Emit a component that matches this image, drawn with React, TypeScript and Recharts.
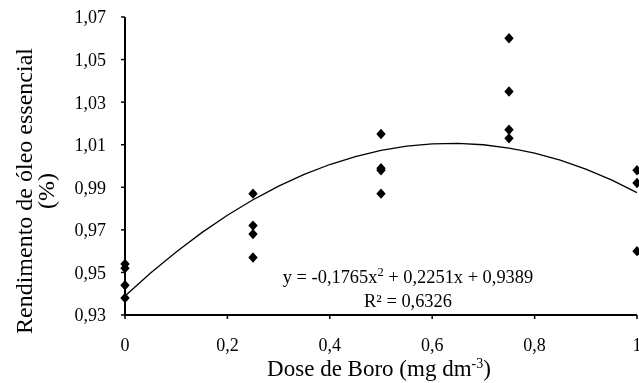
import React from 'react';
import { ComposedChart, Scatter, XAxis, YAxis, Customized } from 'recharts';

const doses = [0, 0.25, 0.5, 0.75, 1];
const yieldDose0 = [0.954, 0.952, 0.944, 0.938];
const yieldDose025 = [0.987, 0.972, 0.968, 0.957];
const yieldDose05 = [1.015, 0.999, 0.998, 0.987];
const yieldDose075 = [1.06, 1.035, 1.017, 1.013];
const yieldDose1 = [0.998, 0.992, 0.96];

const fitCoefA = -0.1765;
const fitCoefB = 0.2251;
const fitCoefC = 0.9389;
const fitSampleX = [0, 0.05, 0.1, 0.15, 0.2, 0.25, 0.3, 0.35, 0.4, 0.45, 0.5, 0.55, 0.6, 0.65, 0.7, 0.75, 0.8, 0.85, 0.9, 0.95, 1];

const xTicks = [0, 0.2, 0.4, 0.6, 0.8, 1];
const yTicks = [0.93, 0.95, 0.97, 0.99, 1.01, 1.03, 1.05, 1.07];

const groups = [yieldDose0, yieldDose025, yieldDose05, yieldDose075, yieldDose1];
const points = groups.flatMap((vals, i) => vals.map((v) => ({ x: doses[i], y: v })));
const curve = fitSampleX.map((x) => ({ x, y: fitCoefA * x * x + fitCoefB * x + fitCoefC }));

const FONT = "'Liberation Serif', 'Times New Roman', 'DejaVu Serif', serif";

const fmtX = (v: number) => (v === 0 ? '0' : v === 1 ? '1' : String(v).replace('.', ','));
const fmtY = (v: number) => v.toFixed(2).replace('.', ',');

const Diamond = (props: any) => {
  const { cx, cy } = props;
  if (cx == null || cy == null) return null;
  const w = 4.7;
  const h = 5.2;
  return <polygon points={`${cx},${cy - h} ${cx + w},${cy} ${cx},${cy + h} ${cx - w},${cy}`} fill="#000" />;
};

const NoShape = () => null;

const txt = { fontFamily: FONT };

const Texts = () => (
  <g fill="#000" style={txt}>
    <text transform="translate(24,183) rotate(-90)" textAnchor="middle" fontSize={24} style={txt}>
      Rendimento de óleo essencial
    </text>
    <text transform="translate(46,183) rotate(-90)" textAnchor="middle" fontSize={24} style={txt}>
      (%)
    </text>
    <text x={371} y={368} textAnchor="middle" fontSize={23} style={txt}>
      Dose de Boro (mg dm
      <tspan dy={-8} fontSize={14}>-3</tspan>
      <tspan dy={8}>)</tspan>
    </text>
    <text x={400} y={275} textAnchor="middle" fontSize={18.4} style={txt}>
      y = -0,1765x
      <tspan dy={-7} fontSize={12.5}>2</tspan>
      <tspan dy={7}> + 0,2251x + 0,9389</tspan>
    </text>
    <text x={400} y={299} textAnchor="middle" fontSize={18.4} style={txt}>
      R² = 0,6326
    </text>
  </g>
);

export default function App() {
  return (
    <div style={{ position: 'fixed', left: 8, top: 8, width: 631, height: 375, overflow: 'hidden', fontFamily: FONT }}>
      <ComposedChart width={631} height={375} margin={{ top: 9, right: 2, left: 0, bottom: 0 }} style={txt}>
        <XAxis
          type="number"
          dataKey="x"
          domain={[0, 1]}
          ticks={xTicks}
          tickFormatter={fmtX}
          height={68}
          axisLine={{ stroke: '#000', strokeWidth: 2 }}
          tickLine={{ stroke: '#000', strokeWidth: 1.5 }}
          tickSize={4}
          tickMargin={19}
          tick={{ fill: '#000', fontSize: 18, style: txt }}
          interval={0}
        />
        <YAxis
          type="number"
          dataKey="y"
          domain={[0.93, 1.07]}
          ticks={yTicks}
          tickFormatter={fmtY}
          width={117}
          axisLine={{ stroke: '#000', strokeWidth: 2 }}
          tickLine={{ stroke: '#000', strokeWidth: 1.5 }}
          tickSize={4}
          tickMargin={15}
          tick={{ fill: '#000', fontSize: 18, style: txt }}
          interval={0}
        />
        <Scatter
          data={curve}
          line={{ stroke: '#000', strokeWidth: 1.3 }}
          lineType="joint"
          shape={NoShape}
          isAnimationActive={false}
        />
        <Scatter data={points} shape={Diamond} isAnimationActive={false} />
        <Customized component={Texts} />
      </ComposedChart>
    </div>
  );
}
